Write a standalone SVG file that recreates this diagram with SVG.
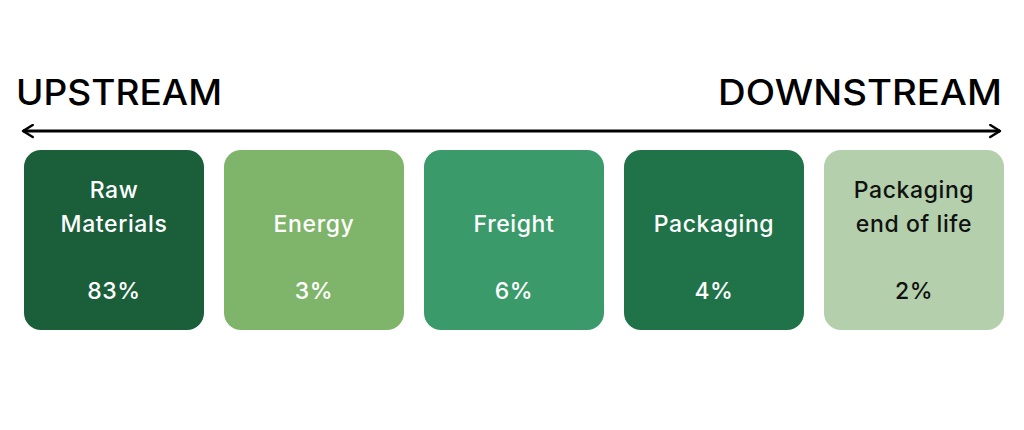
<svg xmlns="http://www.w3.org/2000/svg" width="1024" height="430" viewBox="0 0 1024 430">
<style>
.head{font-family:Inter,"Open Sans","Liberation Sans",sans-serif;font-size:35px;font-weight:500;fill:#000}
.lbl{font-family:Inter,"Open Sans","Liberation Sans",sans-serif;font-size:23px;font-weight:500;text-anchor:middle;letter-spacing:0.6px}
.w{fill:#fff}.k{fill:#111}
</style>
<defs>
<marker id="ah" viewBox="0 0 10 10" refX="8" refY="5" markerWidth="5" markerHeight="5" orient="auto-start-reverse" markerUnits="strokeWidth">
<path d="M1.5,1 L8,5 L1.5,9" fill="none" stroke="#000" stroke-width="1.6" stroke-linecap="round" stroke-linejoin="round"/>
</marker>
</defs>
<rect width="1024" height="430" fill="#fff"/>
<text class="head" x="16" y="105" textLength="206" lengthAdjust="spacingAndGlyphs">UPSTREAM</text>
<text class="head" x="718" y="105" textLength="284" lengthAdjust="spacingAndGlyphs">DOWNSTREAM</text>
<g id="connectors">
<line x1="23" y1="131" x2="1000" y2="131" stroke="#000" stroke-width="3" marker-start="url(#ah)" marker-end="url(#ah)"/>
</g>
<g id="raw">
<rect x="24" y="150" width="180" height="180" rx="17" fill="#1a5e3a"/>
<text class="lbl w" x="114" y="198">Raw</text>
<text class="lbl w" x="114" y="232">Materials</text>
<text class="lbl w" x="114" y="299">83%</text>
</g>
<g id="energy">
<rect x="224" y="150" width="180" height="180" rx="17" fill="#7fb56a"/>
<text class="lbl w" x="314" y="232">Energy</text>
<text class="lbl w" x="314" y="299">3%</text>
</g>
<g id="freight">
<rect x="424" y="150" width="180" height="180" rx="17" fill="#3a9a6a"/>
<text class="lbl w" x="514" y="232">Freight</text>
<text class="lbl w" x="514" y="299">6%</text>
</g>
<g id="packaging">
<rect x="624" y="150" width="180" height="180" rx="17" fill="#207349"/>
<text class="lbl w" x="714" y="232">Packaging</text>
<text class="lbl w" x="714" y="299">4%</text>
</g>
<g id="eol">
<rect x="824" y="150" width="180" height="180" rx="17" fill="#b3cfab"/>
<text class="lbl k" x="914" y="198">Packaging</text>
<text class="lbl k" x="914" y="232">end of life</text>
<text class="lbl k" x="914" y="299">2%</text>
</g>
</svg>
